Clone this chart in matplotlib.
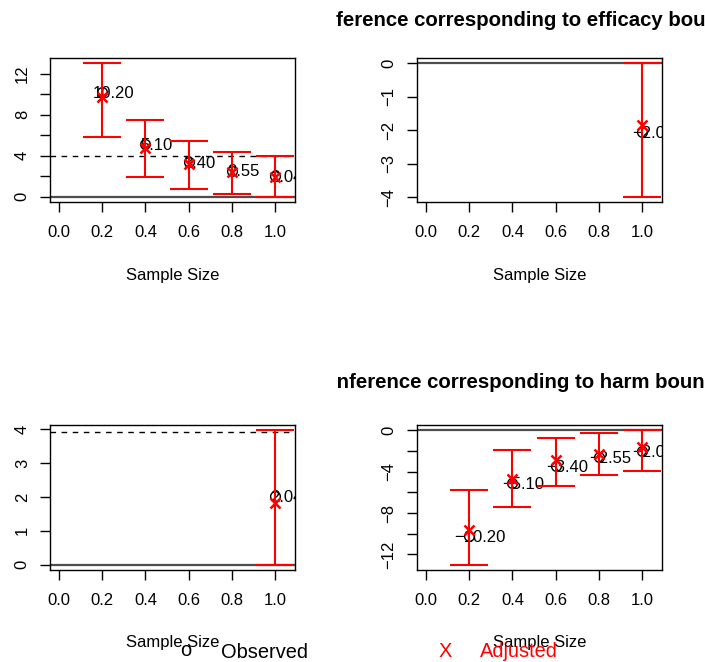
import matplotlib
matplotlib.use("Agg")
import matplotlib.pyplot as plt
from matplotlib.transforms import Bbox, offset_copy

plt.rcParams["font.family"] = ["Liberation Sans", "DejaVu Sans"]

# ---- data -------------------------------------------------------------
sample_frac = [0.2, 0.4, 0.6, 0.8, 1.0]

eff_obs = [10.20, 5.10, 3.40, 2.55, 2.04]
eff_adj = [9.72, 4.78, 3.22, 2.42, 1.88]
eff_lo = [5.77, 1.96, 0.78, 0.26, 0.00]
eff_hi = [13.00, 7.47, 5.42, 4.37, 3.98]

harm_obs = [-10.20, -5.10, -3.40, -2.55, -2.04]
harm_adj = [-9.60, -4.68, -2.90, -2.24, -1.63]
harm_lo = [-12.98, -7.42, -5.37, -4.36, -3.93]
harm_hi = [-5.76, -1.92, -0.78, -0.23, 0.00]

final_frac = [1.0]
eff_final_obs = [-2.04]
eff_final_adj = [-1.83]
eff_final_lo = [-3.98]
eff_final_hi = [0.00]

harm_final_obs = [2.04]
harm_final_adj = [1.83]
harm_final_lo = [0.00]
harm_final_hi = [3.97]

boundary = 3.92

x_ticks = [0.0, 0.2, 0.4, 0.6, 0.8, 1.0]
x_tick_labels = ["0.0", "0.2", "0.4", "0.6", "0.8", "1.0"]
title_eff = "Inference corresponding to efficacy boundary"
title_harm = "Inference corresponding to harm boundary"
xlabel = "Sample Size"

# ---- layout -----------------------------------------------------------
W, H = 705, 662
fig = plt.figure(figsize=(W / 100, H / 100), dpi=100)


def axes_px(left, top, right, bottom):
    return fig.add_axes([left / W, 1 - bottom / H, (right - left) / W, (bottom - top) / H])


def fmt(v):
    return f"{v:.2f}".replace("-", "\u2212")


def panel(ax, xs, obs, adj, lo, hi, yticks, ylabels, dashed=None):
    ylo = min(min(lo), 0.0)
    yhi = max(max(hi), 0.0)
    pad = 0.04 * (yhi - ylo)
    ax.set_ylim(ylo - pad, yhi + pad)
    ax.set_xlim(-0.042, 1.092)

    ax.axhline(0, color="#4d4d4d", lw=1.6, zorder=1)
    if dashed is not None:
        ax.axhline(dashed, color="black", lw=1.0, ls=(0, (4, 4)), zorder=1)

    ax.plot(xs, obs, ls="none", marker="o", ms=7, mfc="none", mec="black", mew=1.0, zorder=2)
    # value labels sit slightly right of each estimate, clipped to the plot box
    tr = offset_copy(ax.transData, fig=fig, x=8.0, y=-4.3, units="points")
    for x, v in zip(xs, obs):
        ax.text(x, v, fmt(v), transform=tr, ha="center", va="baseline",
                fontsize=12, clip_on=True, zorder=3)
    yerr = [[o - l for o, l in zip(obs, lo)], [h - o for o, h in zip(obs, hi)]]
    ax.errorbar(xs, obs, yerr=yerr, fmt="none", ecolor="red", elinewidth=1.5,
                capsize=13.4, capthick=1.5, zorder=4)
    ax.plot(xs, adj, ls="none", marker="x", ms=7.5, mec="red", mew=1.8, zorder=5)

    ax.set_xticks(x_ticks)
    ax.set_xticklabels(x_tick_labels, fontsize=12)
    ax.set_yticks(yticks)
    ax.set_yticklabels(ylabels, fontsize=12, rotation=90, va="center")
    ax.tick_params(axis="x", direction="out", length=7.5, width=1.0, pad=9)
    ax.tick_params(axis="y", direction="out", length=7.5, width=1.0, pad=7)
    for s in ax.spines.values():
        s.set_linewidth(1.0)
        s.set_color("black")


ax1 = axes_px(50, 58, 295, 202)
panel(ax1, sample_frac, eff_obs, eff_adj, eff_lo, eff_hi,
      [0, 2, 4, 6, 8, 10, 12], ["0", "", "4", "", "8", "", "12"], dashed=boundary)

ax2 = axes_px(416.7, 58, 662.3, 202)
panel(ax2, final_frac, eff_final_obs, eff_final_adj, eff_final_lo, eff_final_hi,
      [0, -1, -2, -3, -4], ["0", "\u22121", "\u22122", "\u22123", "\u22124"])

ax3 = axes_px(50, 425, 295, 570)
panel(ax3, final_frac, harm_final_obs, harm_final_adj, harm_final_lo, harm_final_hi,
      [0, 1, 2, 3, 4], ["0", "1", "2", "3", "4"], dashed=boundary)

ax4 = axes_px(416.7, 425, 662.3, 570)
panel(ax4, sample_frac, harm_obs, harm_adj, harm_lo, harm_hi,
      [0, -2, -4, -6, -8, -10, -12], ["0", "", "\u22124", "", "\u22128", "", "\u221212"])

# axis titles
for cx, base in [(172.5, 280), (539.5, 280), (172.5, 647.5), (539.5, 647.5)]:
    fig.text(cx / W, 1 - base / H, xlabel, ha="center", va="baseline", fontsize=12)

# row headings, clipped on the left by the device region
for txt, base in [(title_eff, 26.5), (title_harm, 387.5)]:
    t = fig.text(539.5 / W, 1 - base / H, txt, ha="center", va="baseline",
                 fontsize=14.7, fontweight="bold")
    t.set_clip_box(Bbox.from_extents(335.5, 0, W, H))
    t.set_clip_on(True)

# legend along the bottom edge
fig.text(186 / W, 1 - 656.5 / H, "o", ha="center", va="baseline", fontsize=14.4, color="black")
fig.text(220.7 / W, 1 - 657.5 / H, "Observed", ha="left", va="baseline", fontsize=14.4, color="black")
fig.text(445 / W, 1 - 657.3 / H, "X", ha="center", va="baseline", fontsize=14.4, color="red")
fig.text(480 / W, 1 - 656.8 / H, "Adjusted", ha="left", va="baseline", fontsize=14.4, color="red")

fig.savefig("out.png", dpi=100, facecolor="white")
